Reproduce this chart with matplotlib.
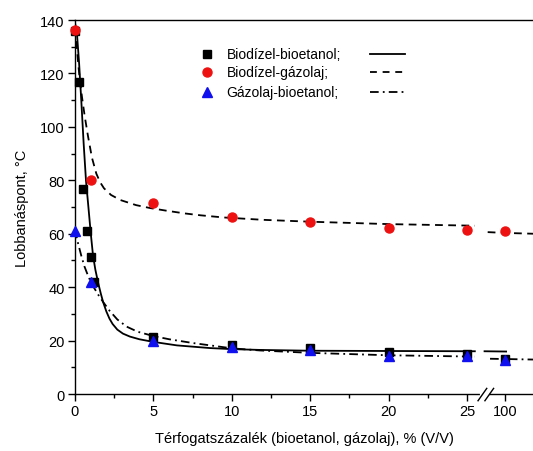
import numpy as np
import matplotlib
matplotlib.use('Agg')
import matplotlib.pyplot as plt

plt.rcParams['font.family'] = ['Liberation Sans', 'DejaVu Sans']
plt.rcParams['font.size'] = 10

# measured points
x_bb = [0, 0.25, 0.5, 0.75, 1.0, 1.2, 5, 10, 15, 20, 25, 100]
y_bb = [136, 116.7, 76.7, 60.9, 51.2, 41.8, 21.2, 18.5, 17.2, 15.6, 15.0, 13.0]

x_bg = [0, 1, 5, 10, 15, 20, 25, 100]
y_bg = [136.2, 80.2, 71.5, 66.2, 64.4, 62.1, 61.4, 61.1]

x_gb = [0, 1, 5, 10, 15, 20, 25, 100]
y_gb = [61.1, 41.8, 20.0, 17.5, 16.5, 14.3, 14.1, 12.7]

# fitted curves (left part, then part after the axis break)
fit_bb_x = [0, 0.13, 0.26, 0.4, 0.55, 0.7, 0.87, 1.0, 1.15, 1.3, 1.47, 1.65, 1.8, 2.0, 2.2, 2.4, 2.7, 3.06, 3.5,
            4.1, 5, 6.5, 8.6, 10, 11.8, 15, 20, 25.5,
            np.nan, 97.4, 100.15]
fit_bb_y = [139, 134.5, 124, 110, 94, 80, 69, 60.5, 51.8, 46.5, 41.8, 37.5, 34.3, 30.9, 28.2, 26.2, 24.1, 22.6, 21.5,
            20.5, 19.5, 18.2, 17.2, 16.8, 16.5, 16.2, 16.1, 16.0,
            np.nan, 16.0, 15.9]

fit_bg_x = [0, 0.1, 0.2, 0.3, 0.45, 0.62, 0.83, 1.08, 1.36, 1.6, 1.85, 2.3, 2.9, 3.9, 4.8, 5.85, 7, 8, 9.45, 12,
            15, 20, 25.5,
            np.nan, 97.8, 100, 103.6]
fit_bg_y = [137, 131, 124, 118, 111, 104, 96.5, 88.5, 82.5, 79.3, 77.0, 74.5, 72.6, 70.7, 69.6, 68.6, 67.6, 66.9, 66.1, 65.2,
            64.5, 63.6, 63.0,
            np.nan, 60.6, 60.3, 60.0]

fit_gb_x = [0, 0.2, 0.4, 0.6, 0.83, 1.0, 1.2, 1.5, 1.8, 2.2, 2.7, 3.3, 4.0, 5, 6, 7.5, 10, 11.8, 15, 20, 25.5,
            np.nan, 98.1, 103.6]
fit_gb_y = [61.5, 56.3, 51.8, 47.8, 44.3, 42.1, 39.9, 37.0, 34.4, 31.2, 27.9, 25.2, 23.3, 21.7, 20.5, 19.1, 17.1, 16.3, 15.4,
            14.5, 14.0,
            np.nan, 13.2, 12.9]

labels = ['Biodízel-bioetanol;', 'Biodízel-gázolaj;', 'Gázolaj-bioetanol;']
x_ticks = [0, 5, 10, 15, 20, 25, 100]
x_minor = [2.5, 7.5, 12.5, 17.5, 22.5]

# broken x axis: 0-25 linear, 25.6-97 squeezed, 97+ half scale
brk_in = [-50, 25.6, 97, 300]
brk_out = [-50, 25.6, 25.92, 25.92 + 203 * 0.5]


def fwd(x):
    return np.interp(x, brk_in, brk_out)


def inv(x):
    return np.interp(x, brk_out, brk_in)


fig = plt.figure(figsize=(5.33, 4.52), dpi=100)
ax = fig.add_axes([0.1407, 0.1261, 0.8593, 0.8274])
ax.set_xscale('function', functions=(fwd, inv))
ax.set_xlim(0, 103.58)
ax.set_ylim(0, 140)

lw = 1.3
ax.plot(fit_bb_x, fit_bb_y, color='black', lw=lw, ls='-')
ax.plot(fit_bg_x, fit_bg_y, color='black', lw=lw, dashes=(4.3, 3.0))
ax.plot(fit_gb_x, fit_gb_y, color='black', lw=lw, dashes=(4.8, 2.3, 1.0, 2.3))

ax.plot(x_bb, y_bb, 's', color='black', ms=6.2, ls='none', clip_on=False, zorder=3)
ax.plot(x_bg, y_bg, 'o', color='#ee1111', ms=6.5, ls='none', clip_on=False, zorder=3)
ax.plot(x_gb, y_gb, '^', color='#1010ee', ms=7, ls='none', clip_on=False, zorder=3)

# legend, marker on the left, line on the right
styles = [('s', 'black', 6, dict(ls='-')),
          ('o', '#ee1111', 6.5, dict(dashes=(3.8, 3.2))),
          ('^', '#1010ee', 7, dict(dashes=(4.8, 2.3, 1.0, 2.3)))]
rows = [0.909, 0.860, 0.808]
for lab, (mk, col, ms, lst), ry in zip(labels, styles, rows):
    ax.plot([0.288], [ry], mk, color=col, ms=ms, transform=ax.transAxes)
    ax.text(0.331, ry, lab, transform=ax.transAxes, va='center', ha='left', fontsize=10)
    ax.plot([0.645, 0.72], [ry, ry], color='black', lw=lw, transform=ax.transAxes, **lst)

ax.set_xticks(x_ticks)
ax.set_xticklabels([str(t) for t in x_ticks])
ax.set_xticks(x_minor, minor=True)
ax.set_yticks(np.arange(0, 141, 20))
ax.set_yticks(np.arange(10, 140, 20), minor=True)
ax.tick_params(which='major', direction='out', length=5, width=1, labelsize=10.5, pad=2.5)
ax.tick_params(which='minor', direction='out', length=3, width=1)
ax.spines['right'].set_visible(False)
for s in ['left', 'bottom', 'top']:
    ax.spines[s].set_linewidth(1.0)

# axis break marks
ax.plot([0.888, 0.900], [0.0, 0.0], color='white', lw=3, transform=ax.transAxes, clip_on=False, zorder=5)
ax.plot([0.880, 0.899], [-0.018, 0.015], color='black', lw=1, transform=ax.transAxes, clip_on=False, zorder=6)
ax.plot([0.895, 0.914], [-0.018, 0.015], color='black', lw=1, transform=ax.transAxes, clip_on=False, zorder=6)

ax.set_xlabel('Térfogatszázalék (bioetanol, gázolaj), % (V/V)', fontsize=10.5, labelpad=9)
ax.set_ylabel('Lobbanáspont, °C', fontsize=10.5, labelpad=8)

fig.savefig('out.png', dpi=100)
